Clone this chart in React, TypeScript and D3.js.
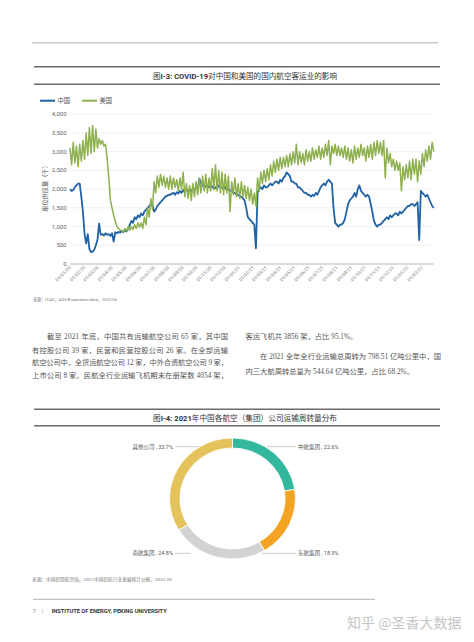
import React from 'react';
import * as d3 from 'd3';

// ---------- Chart I-3 data ----------
const X_TICK_LABELS = [
  '01/01/20', '01/02/20', '01/03/20', '01/04/20', '01/05/20', '01/06/20', '01/07/20', '01/08/20', '01/09/20',
  '01/10/20', '01/11/20', '01/12/20', '01/01/21', '01/02/21', '01/03/21', '01/04/21', '01/05/21', '01/06/21',
  '01/07/21', '01/08/21', '01/09/21', '01/10/21', '01/11/21', '01/12/21', '01/01/22', '01/02/22',
];
const Y_TICKS = [0, 500, 1000, 1500, 2000, 2500, 3000, 3500, 4000];
const SERIES_NAMES = ['中国', '美国'];
const START_DATE = '01/01/20';
const END_DATE = '27/02/22';
const SAMPLE_STEP_HOURS = 84; // two samples a week

// seat capacity (thousand), two samples per week from week 1 of 2020
const CHINA_SEATS = [
  2000, 1950, 1980, 2050, 2100, 2150, 2150, 1800, 1400, 800,
  550, 800, 400, 320, 330, 380, 500, 650, 1080, 780,
  800, 760, 820, 780, 800, 750, 820, 600, 850, 820,
  860, 840, 880, 850, 900, 870, 950, 1050, 1150, 1100,
  1250, 1200, 1300, 1250, 1350, 1300, 1400, 1450, 1500, 1550,
  1600, 1580, 1400, 1450, 1550, 1600, 1650, 1700, 1750, 1800,
  1820, 1850, 1850, 1880, 1900, 1850, 1920, 1880, 1950, 1900,
  1980, 1920, 2000, 1950, 1980, 1950, 2020, 1980, 2050, 2000,
  2280, 2150, 2100, 2050, 2080, 2100, 2050, 2080, 2080, 2000,
  2050, 2020, 2100, 2050, 2050, 2000, 2050, 1980, 2000, 1950,
  1980, 1900, 1900, 1850, 1850, 1800, 1800, 1750, 1700, 1500,
  1250, 1200, 1150, 1100, 1050, 420, 1900, 2000, 2050, 2000,
  2100, 2050, 2050, 2100, 2150, 2100, 2150, 2200, 2200, 2150,
  2250, 2200, 2300, 2350, 2450, 2400, 2350, 2200, 2200, 2150,
  2150, 2050, 2050, 2000, 1950, 1900, 1900, 1850, 1850, 1800,
  1850, 1820, 1900, 1850, 1950, 2050, 2100, 2150, 2100, 2200,
  2250, 2200, 2150, 1500, 1100, 1050, 1000, 1050, 1050, 1100,
  1200, 1400, 1600, 1700, 1750, 1800, 1900, 1800, 2000, 2100,
  1950, 1900, 1850, 1800, 1850, 1800, 1600, 1400, 1150, 1050,
  1000, 1050, 1050, 1100, 1150, 1200, 1250, 1200, 1300, 1250,
  1300, 1350, 1350, 1300, 1400, 1350, 1400, 1450, 1500, 1550,
  1550, 1600, 1600, 1550, 1600, 1650, 640, 1950, 1900, 1850,
  1800, 1850, 1750, 1650, 1550, 1500,
];
const US_SEATS = [
  3100, 2650, 3250, 2700, 3150, 2600, 3200, 2750, 3300, 2800,
  3500, 2900, 3650, 2950, 3700, 3000, 3600, 3100, 3350, 3200,
  3300, 3150, 3200, 2800, 2300, 1700, 1500, 1300, 1150, 1000,
  950, 900, 900, 850, 950, 880, 1000, 900, 1000, 920,
  1050, 950, 1100, 980, 1100, 950, 1250, 1050, 1500, 1250,
  1750, 1450, 2200, 1900, 2350, 2050, 2400, 2100, 2350, 2050,
  2300, 2000, 2350, 2000, 2300, 2050, 2250, 1950, 2300, 2000,
  2450, 1800, 2150, 1750, 2100, 1700, 2150, 1800, 2200, 1850,
  2300, 1900, 2350, 1950, 2400, 1900, 2300, 1950, 2550, 2000,
  2650, 1950, 2500, 1900, 2450, 1850, 2400, 1900, 2350, 1400,
  2200, 1850, 2300, 1800, 2150, 1750, 2200, 1800, 2100, 1750,
  2050, 1700, 2000, 1600, 1900, 1550, 2300, 1950, 2450, 2150,
  2500, 2200, 2550, 2250, 2650, 2350, 2750, 2450, 2800, 2500,
  2850, 2550, 2850, 2600, 2900, 2600, 2950, 2650, 3000, 2700,
  3200, 2650, 3000, 2700, 2950, 2650, 3050, 2750, 3000, 2750,
  3100, 2800, 3050, 2850, 3150, 2800, 3100, 2850, 3200, 2900,
  3300, 2650, 3150, 2950, 3200, 2900, 3150, 2900, 3100, 2850,
  3150, 2800, 3100, 2750, 3050, 2700, 3150, 2800, 3100, 2850,
  3200, 2900, 3100, 2750, 3150, 2850, 3200, 2800, 3250, 2900,
  3300, 2950, 3250, 2900, 3300, 2300, 3100, 2700, 2950, 2600,
  2800, 2500, 2750, 2500, 2700, 1950, 2600, 2250, 2650, 2300,
  2750, 2250, 2800, 2400, 2800, 2200, 2750, 2400, 2950, 2600,
  3050, 2750, 3150, 2800, 3250, 3000,
];

// ---------- Chart I-4 data ----------
const PIE_NAMES = ['中航集团', '东航集团', '南航集团', '其他公司'];
const PIE_SHARES = [22.6, 18.9, 24.8, 33.7];
const PIE_COLORS = ['#33b89d', '#f4a424', '#d3d3d3', '#e4c25c'];

const BODY_LEFT = [
  '\u3000\u3000截至 2021 年底，中国共有运输航空公司 65 家，其中国',
  '有控股公司 39 家，民营和民营控股公司 26 家。在全部运输',
  '航空公司中，全货运航空公司 12 家，中外合资航空公司 9 家，',
  '上市公司 8 家。民航全行业运输飞机期末在册架数 4054 架，',
];
const BODY_RIGHT = [
  '客运飞机共 3856 架，占比 95.1%。',
  '\u3000\u3000在 2021 全年全行业运输总周转为 798.51 亿吨公里中，国',
  '内三大航周转总量为 544.64 亿吨公里，占比 68.2%。',
];

const SANS = "Roboto, 'Noto Sans CJK SC', sans-serif";
const SERIF = "'Liberation Serif', 'Noto Sans CJK SC', serif";

export default function App() {
  const parse = d3.timeParse('%d/%m/%y');
  const start = parse(START_DATE) as Date;
  const end = parse(END_DATE) as Date;
  const x = d3.scaleTime().domain([start, end]).range([70, 434]);
  const y = d3.scaleLinear().domain([0, 4000]).range([264, 114.3]);
  const fmt = d3.format(',');
  const dateAt = (i: number) => d3.timeHour.offset(start, i * SAMPLE_STEP_HOURS);
  const line = d3
    .line<number>()
    .x((_, i) => x(dateAt(i)))
    .y((d) => y(d))
    .curve(d3.curveLinear);

  const cx = 232.5;
  const cy = 498.5;
  const pie = d3.pie<number>().sort(null).value((d) => d)(PIE_SHARES);
  const arc = d3.arc<d3.PieArcDatum<number>>().innerRadius(50.5).outerRadius(60.5);

  // label layout: [side, y, lineStart, lineEnd]
  const pieLabelLayout: [string, number, number, number][] = [
    ['r', 446.7, 267, 296],
    ['r', 553.3, 262, 296],
    ['l', 553.3, 175, 191],
    ['l', 446.7, 175, 199],
  ];

  const leftY = [339.4, 353.4, 365.4, 377.7];

  return (
    <svg width={474} height={642} style={{ position: 'absolute', left: 0, top: 0, background: '#fff' }}>
      <rect width={474} height={642} fill="#fff" />
      {/* top rule */}
      <line x1={32} x2={438} y1={42.7} y2={42.7} stroke="#c9c9c9" strokeWidth={1.5} />

      {/* ===== Figure I-3 header ===== */}
      <line x1={34} x2={440} y1={66.7} y2={66.7} stroke="#6b6b6b" strokeWidth={1.4} />
      <text x={245} y={79} textAnchor="middle" fontFamily={SANS} fontSize={8} fill="#333" textLength={184} lengthAdjust="spacingAndGlyphs">
        <tspan>图</tspan>
        <tspan fontWeight="bold">I-3: COVID-19</tspan>
        <tspan>对中国和美国的国内航空客运业的影响</tspan>
      </text>
      <line x1={34} x2={440} y1={84.3} y2={84.3} stroke="#6b6b6b" strokeWidth={1.4} />

      {/* legend */}
      <line x1={40} x2={55} y1={100.7} y2={100.7} stroke="#1f62a5" strokeWidth={2} />
      <text x={57.5} y={103} fontFamily={SANS} fontSize={6.3} fill="#555">{SERIES_NAMES[0]}</text>
      <line x1={82} x2={97} y1={100.7} y2={100.7} stroke="#8eb04e" strokeWidth={2} />
      <text x={99.5} y={103} fontFamily={SANS} fontSize={6.3} fill="#555">{SERIES_NAMES[1]}</text>

      {/* grid + y ticks */}
      {Y_TICKS.map((t) => (
        <g key={t}>
          <line x1={70} x2={434} y1={y(t)} y2={y(t)} stroke={t === 0 ? '#b5b5b5' : '#ececec'} strokeWidth={t === 0 ? 1 : 0.8} />
          <text x={66.5} y={y(t) + 2} textAnchor="end" fontFamily={SANS} fontSize={6} fill="#666">{fmt(t)}</text>
        </g>
      ))}
      <text transform={`translate(47,187) rotate(-90)`} textAnchor="middle" fontFamily={SANS} fontSize={6.2} fill="#555">座位供应量（千）</text>

      {/* x ticks */}
      {X_TICK_LABELS.map((l) => {
        const px = x(parse(l) as Date);
        return (
          <text key={l} transform={`translate(${px + 1},${268}) rotate(-45)`} textAnchor="end" fontFamily={SANS} fontSize={4.6} fill="#777">{l}</text>
        );
      })}

      {/* series */}
      <path d={line(CHINA_SEATS) || ''} fill="none" stroke="#1f62a5" strokeWidth={1.8} strokeLinejoin="round" />
      <path d={line(US_SEATS) || ''} fill="none" stroke="#8eb04e" strokeWidth={1.5} strokeLinejoin="round" />

      <text x={33} y={300.5} fontFamily={SANS} fontSize={4.2} fill="#777" textLength={84} lengthAdjust="spacingAndGlyphs">来源：ICAO，ADS-B operation data，2022.06</text>

      {/* ===== body text ===== */}
      {BODY_LEFT.map((s, i) => (
        <text key={i} x={32} y={leftY[i]} fontFamily={SERIF} fontSize={7.3} fill="#555"
          textLength={196} lengthAdjust="spacing">{s}</text>
      ))}
      <text x={245.5} y={339.4} fontFamily={SERIF} fontSize={7.3} fill="#555">{BODY_RIGHT[0]}</text>
      <text x={245.5} y={359.4} fontFamily={SERIF} fontSize={7.3} fill="#555" textLength={195.5} lengthAdjust="spacing">{BODY_RIGHT[1]}</text>
      <text x={245.5} y={374.4} fontFamily={SERIF} fontSize={7.3} fill="#555">{BODY_RIGHT[2]}</text>

      {/* ===== Figure I-4 header ===== */}
      <line x1={34} x2={440} y1={409.3} y2={409.3} stroke="#6b6b6b" strokeWidth={1.4} />
      <text x={245} y={421} textAnchor="middle" fontFamily={SANS} fontSize={8} fill="#333" textLength={184} lengthAdjust="spacingAndGlyphs">
        <tspan>图</tspan>
        <tspan fontWeight="bold">I-4: 2021</tspan>
        <tspan>年中国各航空（集团）公司运输周转量分布</tspan>
      </text>
      <line x1={34} x2={440} y1={425.7} y2={425.7} stroke="#6b6b6b" strokeWidth={1.4} />

      {/* donut */}
      <g transform={`translate(${cx},${cy}) scale(1.04,1)`}>
        {pie.map((p, i) => (
          <path key={i} d={arc(p) || ''} fill={PIE_COLORS[i]} stroke="#fff" strokeWidth={0.8} />
        ))}
      </g>
      {pie.map((p, i) => {
        const [side, ly, lx1, lx2] = pieLabelLayout[i];
        const label = `${PIE_NAMES[i]} , ${PIE_SHARES[i].toFixed(1)}%`;
        return (
          <g key={i}>
            <line x1={lx1} x2={lx2} y1={ly} y2={ly} stroke="#aaa" strokeWidth={0.6} />
            <text x={side === 'r' ? lx2 + 2 : lx1 - 2} y={ly + 2} textAnchor={side === 'r' ? 'start' : 'end'}
              fontFamily={SANS} fontSize={5.5} fill="#555">{label}</text>
          </g>
        );
      })}

      <text x={32} y={581} fontFamily={SANS} fontSize={4.4} fill="#777" textLength={140} lengthAdjust="spacingAndGlyphs">来源：中国民用航空局，2021中国民航行业发展统计公报，2022.05</text>

      {/* footer */}
      <line x1={33} x2={375} y1={599.3} y2={599.3} stroke="#9a9a9a" strokeWidth={0.8} />
      <text x={33} y={612.5} fontFamily={SANS} fontSize={5} fill="#888">7</text>
      <text x={42} y={612.5} fontFamily={SANS} fontSize={5} fill="#888">|</text>
      <text x={51.7} y={612.5} fontFamily={SANS} fontSize={5} fontWeight="bold" fill="#333" textLength={115} lengthAdjust="spacingAndGlyphs">INSTITUTE OF ENERGY, PEKING UNIVERSITY</text>

      {/* watermark */}
      <text x={347} y={628} fontFamily="'Noto Sans CJK SC', sans-serif" fontSize={14} fill="#c6c6c6">知乎 @圣香大数据</text>
    </svg>
  );
}
